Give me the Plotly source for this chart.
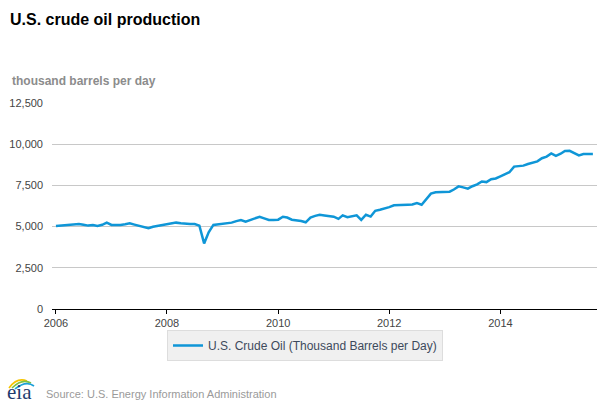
import pandas as pd
import plotly.graph_objects as go

# ---- data (thousand barrels per day), monthly Jan 2006 - Sep 2015 ----
y2006 = [5040, 5060, 5090, 5120, 5160, 5160, 5110, 5060, 5090, 5040, 5110, 5240]
y2007 = [5100, 5090, 5100, 5140, 5200, 5120, 5060, 4990, 4900, 4990, 5040, 5080]
y2008 = [5110, 5180, 5240, 5200, 5160, 5160, 5160, 5060, 3980, 4650, 5100, 5130]
y2009 = [5160, 5200, 5240, 5330, 5400, 5300, 5400, 5500, 5600, 5500, 5400, 5400]
y2010 = [5420, 5600, 5550, 5420, 5400, 5340, 5260, 5550, 5650, 5720, 5680, 5660]
y2011 = [5600, 5470, 5680, 5570, 5620, 5680, 5410, 5720, 5610, 5960, 6020, 6090]
y2012 = [6180, 6290, 6290, 6290, 6330, 6340, 6430, 6330, 6650, 7000, 7080, 7100]
y2013 = [7100, 7120, 7250, 7440, 7380, 7300, 7450, 7560, 7740, 7700, 7880, 7920]
y2014 = [8050, 8200, 8300, 8640, 8650, 8700, 8800, 8880, 8960, 9150, 9250, 9440]
y2015 = [9290, 9420, 9590, 9600, 9450, 9320, 9400, 9410, 9410]

values = y2006 + y2007 + y2008 + y2009 + y2010 + y2011 + y2012 + y2013 + y2014 + y2015
dates = pd.date_range("2006-01-01", periods=len(values), freq="MS")

y_ticks = [0, 2500, 5000, 7500, 10000, 12500]
x_tick_years = ["2006", "2008", "2010", "2012", "2014"]

series_name = "U.S. Crude Oil (Thousand Barrels per Day)"
title_text = "U.S. crude oil production"
unit_text = "thousand barrels per day"
source_text = "Source: U.S. Energy Information Administration"

# ---- layout geometry (pixels) ----
W, H = 610, 407
L, R, T, B = 52, 13, 103, 98
PW, PH = W - L - R, H - T - B


def px(x):
    return (x - L) / PW


def py(y):
    return (H - B - y) / PH


FONT = "Arial, Liberation Sans, sans-serif"
LINE_BLUE = "#0f96d7"

fig = go.Figure()
fig.add_trace(go.Scatter(
    x=dates, y=values, mode="lines", name=series_name,
    line=dict(color=LINE_BLUE, width=2.5),
    showlegend=True,
))

fig.update_layout(
    width=W, height=H,
    margin=dict(l=L, r=R, t=T, b=B, autoexpand=False),
    paper_bgcolor="white", plot_bgcolor="white",
    font=dict(family=FONT, size=11, color="#444444"),
    title=dict(text="<b>" + title_text + "</b>", xref="container", yref="container",
               x=10 / W, xanchor="left", y=1 - 14 / H, yanchor="top",
               font=dict(family=FONT, size=16, color="black")),
    showlegend=True,
    legend=dict(
        orientation="h",
        xref="container", yref="container",
        x=0.5, xanchor="center",
        y=1 - 330 / H, yanchor="top",
        bgcolor="#f0f0f0", bordercolor="#dddddd", borderwidth=1,
        font=dict(family=FONT, size=12, color="#3d4a5c"),
    ),
    xaxis=dict(
        type="date",
        range=["2005-12-06", "2015-09-28"],
        tickvals=[pd.Timestamp(y + "-01-01") for y in x_tick_years],
        ticktext=x_tick_years,
        showgrid=False, zeroline=False,
        showline=True, linecolor="black", linewidth=1,
        ticks="outside", ticklen=4, tickcolor="black", tickwidth=1,
        tickfont=dict(family=FONT, size=11, color="#444444"),
        fixedrange=True,
    ),
    yaxis=dict(
        range=[0, 12500],
        tickvals=y_ticks, tickformat=",",
        showgrid=True, gridcolor="#c8c8c8", gridwidth=1,
        zeroline=False, showline=False,
        ticks="", ticklabelstandoff=8,
        tickfont=dict(family=FONT, size=11, color="#444444"),
        fixedrange=True,
    ),
)

fig.add_annotation(text="<b>" + unit_text + "</b>", xref="paper", yref="paper",
                   x=px(10), y=py(81), xanchor="left", yanchor="middle",
                   showarrow=False, font=dict(family=FONT, size=12, color="#8c8c8c"))
fig.add_annotation(text=source_text, xref="paper", yref="paper",
                   x=px(44), y=py(394), xanchor="left", yanchor="middle",
                   showarrow=False, font=dict(family=FONT, size=11, color="#9a9a9a"))
fig.add_annotation(text="eia", xref="paper", yref="paper",
                   x=px(19), y=py(392), xanchor="center", yanchor="middle",
                   showarrow=False,
                   font=dict(family="Liberation Serif, DejaVu Serif, serif", size=21, color="#1f3c6e"))

# eia logo swooshes
swooshes = [
    ((9, 388), (17, 377), (27, 381), "#f5c400"),
    ((12, 388), (22, 378), (31, 383), "#7dc142"),
    ((15, 389), (26, 380), (34, 386), "#1ba0d8"),
]
for (x0, y0), (cx, cy), (x1, y1), col in swooshes:
    path = "M {:.4f},{:.4f} Q {:.4f},{:.4f} {:.4f},{:.4f}".format(
        px(x0), py(y0), px(cx), py(cy), px(x1), py(y1))
    fig.add_shape(type="path", path=path, xref="paper", yref="paper",
                  line=dict(color=col, width=1.6))

fig.write_html(
    "out.html",
    config={"displayModeBar": False},
    post_script="document.body.style.margin='0px';document.body.style.overflow='hidden';",
)
